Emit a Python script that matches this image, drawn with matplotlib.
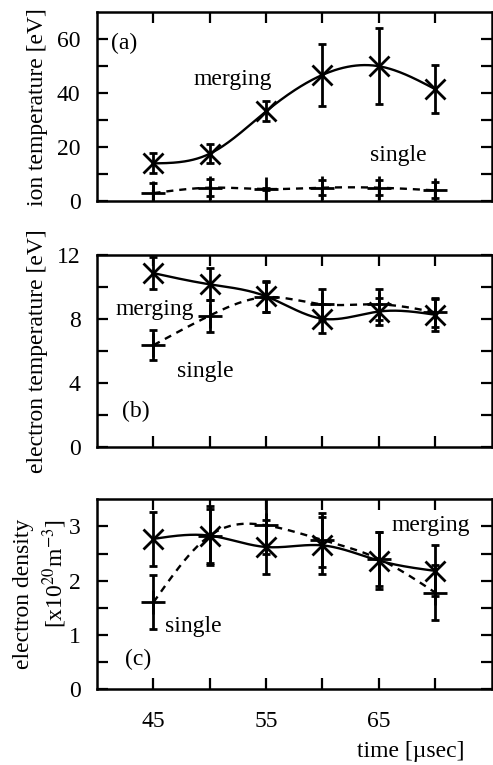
import numpy as np
import matplotlib
matplotlib.use("Agg")
import matplotlib.pyplot as plt

plt.rcParams["font.family"] = ["Liberation Serif", "DejaVu Serif"]
plt.rcParams["mathtext.fontset"] = "stix"

time = [45, 50, 55, 60, 65, 70]

# (a) ion temperature [eV]
ti_merge = [14.0, 17.6, 33.3, 46.8, 50.0, 41.5]
ti_merge_err = [3.7, 3.5, 3.7, 11.5, 14.0, 9.0]
ti_single = [3.0, 5.0, 4.5, 5.0, 5.0, 4.0]
ti_single_err = [3.6, 3.2, 0.5, 2.8, 2.8, 3.0]

# (b) electron temperature [eV]
te_merge = [10.85, 10.15, 9.4, 8.0, 8.45, 8.25]
te_merge_err = [1.0, 1.0, 0.95, 0.9, 0.85, 1.0]
te_single = [6.35, 8.2, 9.35, 8.9, 8.9, 8.4]
te_single_err = [0.95, 1.0, 0.95, 0.95, 0.95, 0.9]

# (c) electron density [x10^20 m^-3]
ne_merge = [2.77, 2.83, 2.62, 2.65, 2.37, 2.18]
ne_merge_err = [0.5, 0.5, 0.5, 0.52, 0.53, 0.47]
ne_single = [1.6, 2.83, 3.02, 2.75, 2.4, 1.78]
ne_single_err = [0.5, 0.55, 0.52, 0.5, 0.5, 0.5]

x_ticks = [45, 50, 55, 60, 65, 70]
x_ticklabels = ["45", "", "55", "", "65", ""]


def spline(x, y, n=200):
    # natural cubic spline for the smooth guide lines
    x = np.asarray(x, float)
    y = np.asarray(y, float)
    k = len(x)
    h = np.diff(x)
    A = np.zeros((k, k))
    r = np.zeros(k)
    A[0, 0] = A[-1, -1] = 1
    for i in range(1, k - 1):
        A[i, i - 1] = h[i - 1]
        A[i, i] = 2 * (h[i - 1] + h[i])
        A[i, i + 1] = h[i]
        r[i] = 6 * ((y[i + 1] - y[i]) / h[i] - (y[i] - y[i - 1]) / h[i - 1])
    m = np.linalg.solve(A, r)
    xs = np.linspace(x[0], x[-1], n)
    j = np.clip(np.searchsorted(x, xs) - 1, 0, k - 2)
    t = xs - x[j]
    hj = h[j]
    a = (m[j + 1] - m[j]) / (6 * hj)
    b = m[j] / 2
    c = (y[j + 1] - y[j]) / hj - hj * (2 * m[j] + m[j + 1]) / 6
    ys = y[j] + c * t + b * t ** 2 + a * t ** 3
    return xs, ys


def panel(ax, ym, yme, ys, yse, ylim, yticks, yticklabels):
    xs, ss = spline(time, ys)
    ax.plot(xs, ss, color="black", lw=1.7, dashes=(3, 2.5))
    xm, sm = spline(time, ym)
    ax.plot(xm, sm, color="black", lw=1.7)
    ax.errorbar(time, ys, yerr=yse, fmt="+", color="black", ms=17, mew=2,
                elinewidth=2, capsize=3, capthick=2)
    ax.errorbar(time, ym, yerr=yme, fmt="x", color="black", ms=15, mew=2,
                elinewidth=2, capsize=3, capthick=2)
    ax.set_xlim(40, 75)
    ax.set_ylim(*ylim)
    ax.set_xticks(x_ticks)
    ax.set_yticks(yticks)
    ax.set_yticklabels(yticklabels)
    ax.tick_params(direction="in", length=8, width=1.6, top=True, right=True,
                   labelsize=17, pad=12)
    for s in ax.spines.values():
        s.set_linewidth(1.8)


fig = plt.figure(figsize=(4.93, 7.65), dpi=100)

ax1 = fig.add_axes([0.197, 0.737, 0.800, 0.247])
panel(ax1, ti_merge, ti_merge_err, ti_single, ti_single_err, (0, 70),
      [0, 10, 20, 30, 40, 50, 60], ["0", "", "20", "", "40", "", "60"])
ax1.set_xticklabels([])
ax1.text(0.035, 0.836, "(a)", transform=ax1.transAxes, fontsize=17, va="center")
ax1.text(52.0, 45.2, "merging", fontsize=17, ha="center", va="center")
ax1.text(66.7, 16.9, "single", fontsize=17, ha="center", va="center")
ax1.set_ylabel("ion temperature [eV]", fontsize=17, labelpad=6)

ax2 = fig.add_axes([0.197, 0.416, 0.800, 0.251])
panel(ax2, te_merge, te_merge_err, te_single, te_single_err, (0, 12),
      [0, 2, 4, 6, 8, 10, 12], ["0", "", "4", "", "8", "", "12"])
ax2.set_xticklabels([])
ax2.text(43.4, 2.2, "(b)", fontsize=17, ha="center", va="center")
ax2.text(45.1, 8.6, "merging", fontsize=17, ha="center", va="center")
ax2.text(49.6, 4.7, "single", fontsize=17, ha="center", va="center")
ax2.set_ylabel("electron temperature [eV]", fontsize=17, labelpad=6)

ax3 = fig.add_axes([0.197, 0.0993, 0.800, 0.248])
panel(ax3, ne_merge, ne_merge_err, ne_single, ne_single_err, (0, 3.5),
      [0, 0.5, 1, 1.5, 2, 2.5, 3], ["0", "", "1", "", "2", "", "3"])
ax3.set_xticklabels(x_ticklabels)
ax3.tick_params(axis="x", pad=16)
ax3.text(43.6, 0.55, "(c)", fontsize=17, ha="center", va="center")
ax3.text(69.6, 3.02, "merging", fontsize=17, ha="center", va="center")
ax3.text(48.5, 1.15, "single", fontsize=17, ha="center", va="center")
ax3.set_ylabel("electron density\n[x10$^{20}$m$^{-3}$]", fontsize=17,
               labelpad=0, linespacing=1.25, multialignment="right")

fig.text(411 / 493, 1 - 752 / 765, "time [µsec]", fontsize=17,
         ha="center", va="center")

fig.savefig("out.png", dpi=100)
